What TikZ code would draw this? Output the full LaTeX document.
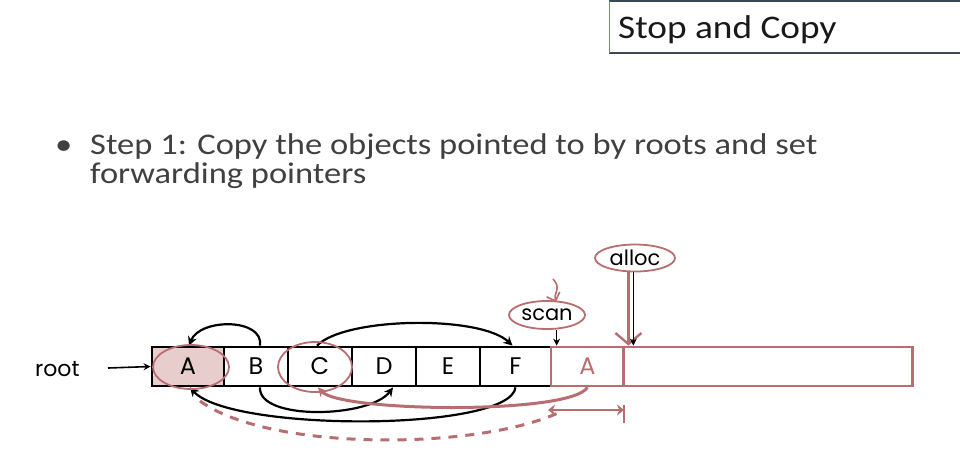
\documentclass[tikz,border=0pt]{standalone}
\usepackage{fontspec}
\setmainfont{Carlito}
\newfontfamily\diagfont{Poppins}
\newfontfamily\titlefont[FakeStretch=1.13]{Carlito}
\newfontfamily\bulfont[FakeStretch=1.15]{Carlito}
\usetikzlibrary{arrows.meta,shapes.geometric}
\definecolor{rosec}{RGB}{184,110,112}
\definecolor{slatec}{RGB}{59,72,86}
\definecolor{textgray}{RGB}{64,64,64}
\definecolor{afill}{RGB}{232,205,205}
\begin{document}
\begin{tikzpicture}[x=1pt,y=-1pt,
  cell/.style={draw=black, line width=2.8pt, minimum height=39pt, inner sep=0pt,
    font=\diagfont\fontsize{24}{24}\selectfont},
  newcell/.style={cell, draw=rosec, text=rosec},
  blk/.style={draw=black, line width=2.2pt},
  rosel/.style={draw=rosec, line width=2.4pt},
  tip/.style={-{Stealth[length=9pt,width=9pt]}},
  roval/.style={ellipse, draw=rosec, line width=1.8pt, inner sep=0pt,
    font=\diagfont\fontsize{21}{21}\selectfont},
  lbl/.style={inner sep=0pt, font=\diagfont\fontsize{22}{22}\selectfont}
  ]
\useasboundingbox (0,0) rectangle (960,459);

% title box
\draw[slatec, line width=2pt] (609,1) -- (962,1);
\draw[slatec, line width=2pt] (609,53) -- (962,53);
\draw[rosec, line width=0.8pt] (609,1) -- (609,53);
\node[anchor=base west, inner sep=0pt, font=\titlefont\fontsize{33}{33}\selectfont, text=black!90] (title) at (618,38) {Stop and Copy};

% bullet text
\node[anchor=base west, inner sep=0pt, font=\bulfont\fontsize{30}{30}\selectfont, text=textgray] (bul) at (55,154) {\textbullet};
\node[anchor=base west, inner sep=0pt, font=\bulfont\fontsize{30}{30}\selectfont, text=textgray] (l1) at (90,154) {Step 1: Copy the objects pointed to by roots and set};
\node[anchor=base west, inner sep=0pt, font=\bulfont\fontsize{30}{30}\selectfont, text=textgray] (l2) at (90,183) {forwarding pointers};

% old space cells
\node[cell, minimum width=72pt, fill=afill] (A) at (188,366.5) {A};
\node[cell, minimum width=64pt] (B) at (256,366.5) {B};
\node[cell, minimum width=64pt] (C) at (320,366.5) {C};
\node[cell, minimum width=64pt] (D) at (384,366.5) {D};
\node[cell, minimum width=64pt] (E) at (448,366.5) {E};
\node[cell, minimum width=71pt] (F) at (515.5,366.5) {F};
% new space
\node[newcell, minimum width=73pt] (A2) at (587.5,366.5) {A};
\node[newcell, minimum width=289pt] (free) at (768,366.5) {};

% root
\node[lbl, anchor=base west] (root) at (35,376) {root};
\draw[blk, line width=1.6pt, -{Stealth[length=7pt,width=7pt]}] (108,368) -- (A.west);

% black pointers
\draw[blk, tip] ([xshift=4pt]B.north) .. controls (264,318) and (200,318) .. ([xshift=1pt]A.north);
\draw[blk, tip] ([xshift=-3pt]C.north) .. controls (345,317) and (480,315) .. ([xshift=-3pt]F.north);
\draw[blk, tip] ([xshift=4pt]B.south) .. controls (258,421) and (370,418) .. ([xshift=9pt]D.south);
\draw[blk, tip] (F.south) .. controls (510,432) and (230,432) .. ([xshift=2pt]A.south);

% rose annotations
\draw[rosec, line width=1.8pt] (191,367) ellipse (38 and 22);
\draw[rosec, line width=1.8pt] (315,367) ellipse (37 and 25);
\draw[rosel, line width=3pt, tip] (A2.south) .. controls (570,415) and (340,412) .. ([xshift=-2pt]C.south);
\coordinate (dstart) at (200,401);
\coordinate (dend) at (560,412);
\draw[rosel, line width=3pt, dash pattern=on 9pt off 8pt] (dstart) .. controls (270,452) and (480,450) .. (dend);

% bracket under copied A
\coordinate (brl) at (548,410);
\coordinate (brr) at (624,410);
\draw[rosel, {Stealth[length=7pt,width=11pt]}-{Stealth[length=7pt,width=11pt]}] (brl) -- (brr);
\draw[rosel] ([yshift=-13pt]brr) -- ([yshift=5pt]brr);

% scan
\node[roval, minimum width=76pt, minimum height=28pt] (scan) at (547,315) {scan};
\coordinate (sp) at ([xshift=7pt]A2.north west);
\draw[blk, line width=1.6pt, -{Stealth[length=7pt,width=7pt]}] (sp |- scan.south) -- (sp);
\coordinate (sq0) at (553,279);
\coordinate (sq1) at (556,302);
\draw[rosec, line width=1.6pt, -{Straight Barb[length=7pt,width=14pt]}] (sq0) .. controls (562,288) and (553,294) .. (sq1);

% alloc
\node[roval, minimum width=80pt, minimum height=27pt] (alloc) at (635,258) {alloc};
\coordinate (ap) at ([xshift=8pt]A2.north east);
\coordinate (ar) at ([xshift=3pt]A2.north east);
\draw[rosel, -{Straight Barb[length=11pt,width=26pt]}] (ar |- alloc.south) -- (ar);
\draw[blk, line width=1.6pt, -{Stealth[length=7pt,width=7pt]}] (ap |- alloc.south) -- (ap);
\end{tikzpicture}
\end{document}
